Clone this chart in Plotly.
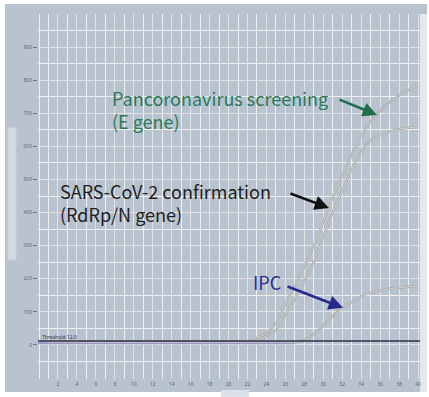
import plotly.graph_objects as go

# Amplification cycles and fluorescence readings (RFU) per channel
cycles = list(range(1, 41))
pancorona_e = [9, 9, 9, 9, 9, 9, 9, 9, 9, 9, 9, 9, 9, 9, 9, 9, 9, 9, 9, 9,
               10, 11, 21, 36, 66, 124, 178, 236, 300, 372,
               446, 512, 574, 632, 676, 708, 734, 754, 770, 785]
sars_rdrp_n = [9, 9, 9, 9, 9, 9, 9, 9, 9, 9, 9, 9, 9, 9, 9, 9, 9, 9, 9, 9,
               9, 9, 15, 27, 45, 91, 139, 193, 250, 326,
               400, 465, 530, 585, 618, 635, 645, 652, 656, 659]
ipc = [9, 9, 9, 9, 9, 9, 9, 9, 9, 9, 9, 9, 9, 9, 9, 9, 9, 9, 9, 9,
       9, 9, 9, 9, 9, 9, 9, 15, 33, 60,
       88, 112, 130, 147, 157, 165, 170, 173, 176, 178]

threshold = 12
ipc_baseline_x = [-0.11, 27]
ipc_baseline_y = [5, 5]

x_ticks = list(range(2, 41, 2))
y_ticks = list(range(0, 901, 100))

FONT = "Noto Sans CJK KR"

fig = go.Figure()

# light baseline segment
fig.add_trace(go.Scatter(x=ipc_baseline_x, y=ipc_baseline_y, mode="lines",
                         line=dict(color="#9a97cf", width=2), hoverinfo="skip"))

# amplification curves, drawn as a grey stroke with a pale core
for series in (pancorona_e, sars_rdrp_n, ipc):
    fig.add_trace(go.Scatter(x=cycles, y=series, mode="lines",
                             line=dict(color="#a9a9a9", width=2.3, shape="spline"),
                             hoverinfo="skip"))
    fig.add_trace(go.Scatter(x=cycles, y=series, mode="lines",
                             line=dict(color="#e4e4e4", width=0.7, shape="spline"),
                             hoverinfo="skip"))

# threshold line
fig.add_trace(go.Scatter(x=[-0.11, 40.21], y=[threshold, threshold], mode="lines",
                         line=dict(color="#2f2f48", width=1.6), hoverinfo="skip"))

shapes = [
    # window frame around the plot
    dict(type="rect", xref="paper", yref="paper", x0=-0.0864, x1=1.0183,
         y0=-0.0356, y1=1.0274, fillcolor="#b8c3cf", line=dict(width=0), layer="below"),
    dict(type="rect", xref="paper", yref="paper", x0=1.0, x1=1.0183,
         y0=-0.0356, y1=1.0, fillcolor="#e4e8ec", line=dict(width=0), layer="below"),
    # scroll handle on the left edge
    dict(type="rect", xref="paper", yref="paper", x0=-0.0785, x1=-0.0576,
         y0=0.326, y1=0.688, fillcolor="#d3dae2", line=dict(color="#c8d0d9", width=1),
         layer="below"),
    # small tab under the x axis
    dict(type="rect", xref="paper", yref="paper", x0=0.479, x1=0.552,
         y0=-0.049, y1=-0.030, fillcolor="#dbe1e8", line=dict(width=0), layer="below"),
]

annotations = [
    dict(x=7.49, y=710, xref="x", yref="y", xanchor="left", yanchor="middle",
         text="Pancoronavirus screening<br>(E gene)", align="left", showarrow=False,
         font=dict(family=FONT, size=18, color="#2a7a5a")),
    dict(x=2.0, y=429, xref="x", yref="y", xanchor="left", yanchor="middle",
         text="SARS-CoV-2 confirmation<br>(RdRp/N gene)", align="left", showarrow=False,
         font=dict(family=FONT, size=18, color="#1e1e1e")),
    dict(x=22.38, y=190, xref="x", yref="y", xanchor="left", yanchor="middle",
         text="IPC", showarrow=False,
         font=dict(family=FONT, size=18, color="#2b2d8a")),
    # arrows
    dict(x=35.67, y=695, ax=31.56, ay=743, xref="x", yref="y", axref="x", ayref="y",
         text="", showarrow=True, arrowhead=2, arrowsize=1.1, arrowwidth=2.6,
         arrowcolor="#1f6e4e"),
    dict(x=30.6, y=414, ax=26.38, ay=459, xref="x", yref="y", axref="x", ayref="y",
         text="", showarrow=True, arrowhead=2, arrowsize=1.1, arrowwidth=2.6,
         arrowcolor="#111111"),
    dict(x=32.08, y=112, ax=26.07, ay=178, xref="x", yref="y", axref="x", ayref="y",
         text="", showarrow=True, arrowhead=2, arrowsize=1.1, arrowwidth=2.6,
         arrowcolor="#262a8c"),
    # threshold tag
    dict(x=0.1, y=threshold, xref="x", yref="y", xanchor="left", yanchor="bottom",
         text="Threshold 12.0", showarrow=False, yshift=-1,
         font=dict(family="Noto Sans", size=5, color="#2f2f48")),
]

fig.update_layout(
    width=429, height=397,
    margin=dict(l=38, r=9, t=14, b=18, pad=0),
    paper_bgcolor="#ffffff",
    plot_bgcolor="#fbfbfc",
    showlegend=False,
    shapes=shapes,
    annotations=annotations,
    xaxis=dict(range=[-0.11, 40.21], tickvals=x_ticks, automargin=False,
               showgrid=True, gridcolor="#e0e3e7", gridwidth=1,
               minor=dict(dtick=1, tick0=0, showgrid=True, gridcolor="#eef0f2"),
               ticks="", showline=False, zeroline=False,
               tickfont=dict(family="Noto Sans", size=5, color="#5e6670"), ticklabelstandoff=1),
    yaxis=dict(range=[-103, 1000], tickvals=y_ticks, automargin=False,
               showgrid=True, gridcolor="#dfe2e6", gridwidth=1,
               minor=dict(dtick=50, tick0=0, showgrid=True, gridcolor="#f0f1f3"),
               ticks="outside", ticklen=4, tickcolor="#6f7780", tickwidth=1,
               showline=False, zeroline=False,
               tickfont=dict(family="Noto Sans", size=5, color="#5e6670")),
)

fig.write_html("out.html")
